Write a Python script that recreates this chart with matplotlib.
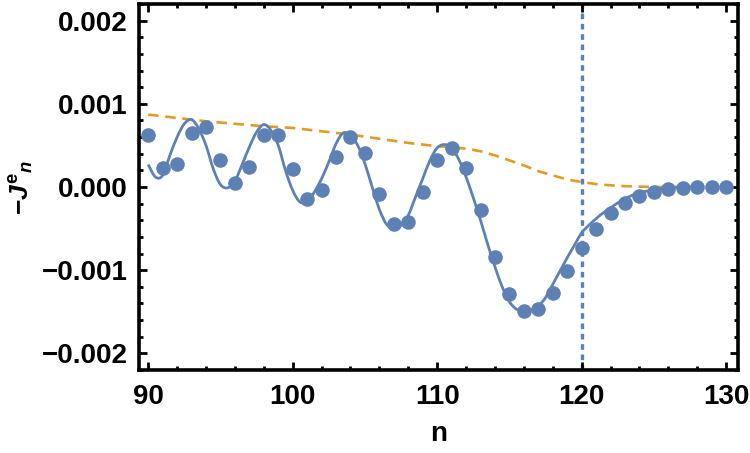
import numpy as np
import matplotlib
matplotlib.use("Agg")
import matplotlib.pyplot as plt
from matplotlib.path import Path
from matplotlib.patches import PathPatch
from matplotlib.ticker import MultipleLocator, FuncFormatter

plt.rcParams['font.family'] = ['Liberation Sans', 'DejaVu Sans']
plt.rcParams['font.weight'] = 'bold'
plt.rcParams['mathtext.fontset'] = 'custom'
plt.rcParams['mathtext.rm'] = 'Liberation Sans:bold'
plt.rcParams['mathtext.it'] = 'Liberation Sans:bold:italic'
plt.rcParams['mathtext.bf'] = 'Liberation Sans:bold'

# ---- data (values in units of 1e-3) ----
point_n = list(range(90, 131))
point_vals = [0.62, 0.23, 0.28, 0.65, 0.72, 0.33, 0.05, 0.24, 0.63, 0.63,
              0.22, -0.14, -0.04, 0.36, 0.60, 0.41, -0.08, -0.44, -0.42, -0.06,
              0.33, 0.47, 0.23, -0.28, -0.84, -1.29, -1.49, -1.47, -1.28, -1.01,
              -0.73, -0.50, -0.31, -0.19, -0.11, -0.06, -0.03, -0.012, -0.005, 0.0,
              0.0]

curve_n = [90.0, 90.5, 91.0, 91.5, 92.0, 92.5, 93.0, 93.5, 94.0, 94.5,
           95.0, 95.5, 96.0, 96.5, 97.0, 97.5, 98.0, 98.5, 99.0, 99.5,
           100.0, 100.5, 101.0, 101.5, 102.0, 102.5, 103.0, 103.5, 104.0, 104.5,
           105.0, 105.5, 106.0, 106.5, 107.0, 107.5, 108.0, 108.5, 109.0, 109.5,
           110.0, 110.5, 111.0, 111.5, 112.0, 112.5, 113.0, 113.5, 114.0, 114.5,
           115.0, 115.5, 116.0, 116.5, 117.0, 117.5, 118.0, 118.5, 119.0, 119.5,
           120.0, 120.5, 121.0, 121.5, 122.0, 122.5, 123.0, 123.5, 124.0, 124.5,
           125.0, 125.5, 126.0, 126.5, 127.0, 127.5, 128.0]
curve_vals = [0.27, 0.12, 0.14, 0.38, 0.60, 0.76, 0.81, 0.70, 0.50, 0.22,
              0.03, -0.01, 0.07, 0.27, 0.48, 0.66, 0.75, 0.68, 0.50, 0.20,
              -0.04, -0.18, -0.17, -0.06, 0.10, 0.30, 0.52, 0.65, 0.62, 0.50,
              0.28, 0.00, -0.27, -0.45, -0.50, -0.46, -0.34, -0.12, 0.10, 0.32,
              0.47, 0.51, 0.47, 0.33, 0.12, -0.13, -0.40, -0.69, -0.96, -1.20,
              -1.38, -1.47, -1.50, -1.48, -1.43, -1.33, -1.17, -1.01, -0.85, -0.70,
              -0.55, -0.46, -0.38, -0.31, -0.25, -0.19, -0.14, -0.10, -0.07, -0.05,
              -0.03, -0.02, -0.01, -0.005, 0.0, 0.0, 0.0]

env_n = [90, 92, 94, 96, 98, 100, 102, 104, 106, 108, 110, 111, 112, 113, 114,
         115, 116, 117, 118, 119, 120, 121, 122, 123, 124, 125, 126, 127, 128]
env_vals = [0.87, 0.83, 0.79, 0.76, 0.73, 0.71, 0.67, 0.63, 0.58, 0.53, 0.49,
            0.48, 0.46, 0.43, 0.38, 0.32, 0.26, 0.19, 0.14, 0.09, 0.06, 0.035,
            0.02, 0.01, 0.005, 0.0, 0.0, 0.0, 0.0]

vline_n = 120
xticks = [90, 100, 110, 120, 130]
yticks = [-0.002, -0.001, 0.0, 0.001, 0.002]

BLUE = '#5E81B5'
ORANGE = '#E19C24'


def smooth_path(xs, ys):
    xs = np.asarray(xs, float)
    ys = np.asarray(ys, float)
    P = np.column_stack([xs, ys])
    n = len(P)
    verts = [P[0]]
    codes = [Path.MOVETO]
    for i in range(n - 1):
        p0 = P[i - 1] if i > 0 else P[i]
        p1 = P[i]
        p2 = P[i + 1]
        p3 = P[i + 2] if i + 2 < n else P[i + 1]
        c1 = p1 + (p2 - p0) / 6.0
        c2 = p2 - (p3 - p1) / 6.0
        verts += [c1, c2, p2]
        codes += [Path.CURVE4] * 3
    return Path(verts, codes)


fig = plt.figure(figsize=(7.5, 4.53), dpi=100)
ax = fig.add_axes([0.1847, 0.1832, 0.7993, 0.808])

scale = 1e-3
ax.plot(env_n, np.array(env_vals) * scale, color=ORANGE, lw=1.9,
        dashes=(4.0, 2.5), zorder=2)
patch = PathPatch(smooth_path(curve_n, np.array(curve_vals) * scale),
                  facecolor='none', edgecolor=BLUE, lw=2.0, zorder=3)
ax.add_patch(patch)
ax.plot(point_n, np.array(point_vals) * scale, 'o', color=BLUE, ms=10.5,
        mec='none', zorder=4)
ax.axvline(vline_n, color=BLUE, lw=2.4, dashes=(1.7, 1.4), zorder=1)

ax.set_xlim(89.33, 130.82)
ax.set_ylim(-0.0022, 0.0022)
ax.set_xticks(xticks)
ax.set_yticks(yticks)
ax.xaxis.set_minor_locator(MultipleLocator(2))
ax.yaxis.set_minor_locator(MultipleLocator(0.0002))
ax.yaxis.set_major_formatter(FuncFormatter(lambda v, p: f"{v:.3f}".replace('-', '\u2212') if abs(v) > 1e-12 else "0.000"))
ax.tick_params(which='both', direction='in', top=True, right=True,
               labelsize=20, width=2.0, color='black')
ax.tick_params(which='major', length=5.5)
ax.tick_params(which='minor', length=3.2)
ax.tick_params(axis='x', pad=10)
ax.tick_params(axis='y', pad=8)
for lab in ax.get_xticklabels() + ax.get_yticklabels():
    lab.set_fontweight('bold')
for sp in ax.spines.values():
    sp.set_linewidth(2.6)
    sp.set_color('black')

ax.set_xlabel('n', fontsize=20, fontweight='bold', labelpad=8)
fig.text(22 / 750, 1 - 187 / 453, r'$-J^{\mathrm{e}}{}_{n}$', rotation=90,
         fontsize=19, ha='center', va='center')

fig.savefig('out.png', dpi=100)
